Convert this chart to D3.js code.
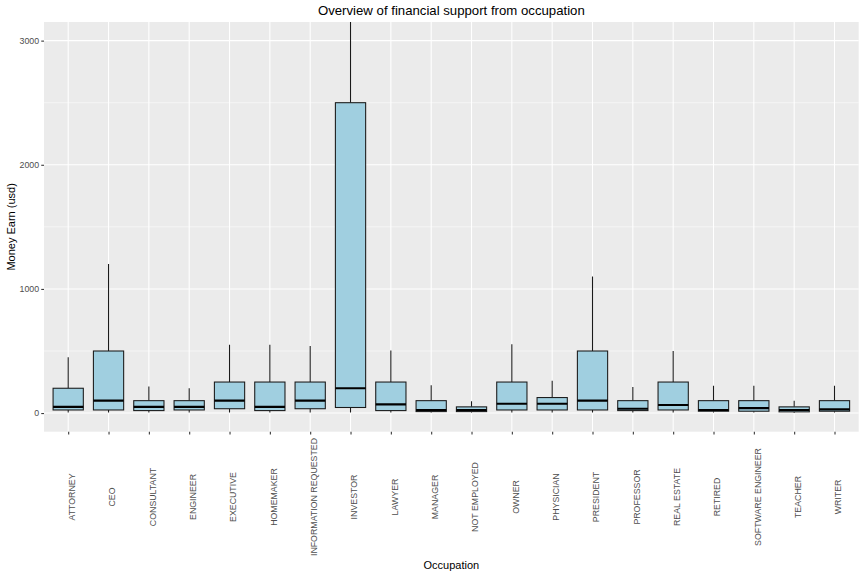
<!DOCTYPE html>
<html><head><meta charset="utf-8">
<script src="https://cdn.jsdelivr.net/npm/d3@7"></script>
<style>
html,body{margin:0;padding:0;background:#fff;}
svg{display:block;font-family:"Liberation Sans",Arial,Helvetica,sans-serif;}
</style></head>
<body>
<svg id="chart" width="864" height="576"></svg>
<script>
const categories = ["ATTORNEY","CEO","CONSULTANT","ENGINEER","EXECUTIVE","HOMEMAKER","INFORMATION REQUESTED","INVESTOR","LAWYER","MANAGER","NOT EMPLOYED","OWNER","PHYSICIAN","PRESIDENT","PROFESSOR","REAL ESTATE","RETIRED","SOFTWARE ENGINEER","TEACHER","WRITER"];
const lowerWhisker = [5,5,5,5,5,5,5,5,5,5,5,5,5,5,5,5,5,5,3,5];
const q1Values     = [25,25,20,25,35,20,35,45,20,12,12,25,25,25,20,25,15,15,10,15];
const medianValues = [50,100,50,50,100,50,100,200,70,25,25,75,75,100,35,65,25,40,25,30];
const q3Values     = [200,500,100,100,250,250,250,2500,250,100,50,250,125,500,100,250,100,100,50,100];
const upperWhisker = [450,1200,215,200,550,550,540,3500,505,225,95,555,260,1100,210,500,220,220,100,220];
const yMajorTicks = [0,1000,2000,3000];
const yMinorTicks = [500,1500,2500];
const titleText = "Overview of financial support from occupation";
const xTitle = "Occupation";
const yTitle = "Money Earn (usd)";

const boxes = categories.map((c,i)=>({cat:c, lo:lowerWhisker[i], q1:q1Values[i], med:medianValues[i], q3:q3Values[i], hi:upperWhisker[i]}));

const svg = d3.select("#chart");
const P = {left:44, right:858.7, top:22, bottom:431.7};

const x = d3.scalePoint().domain(categories).range([P.left, P.right]).padding(0.6);
const y = d3.scaleLinear().domain([-150, 3150]).range([P.bottom, P.top]);
const bw = x.step() * 0.75;

// panel
svg.append("rect").attr("x",P.left).attr("y",P.top).attr("width",P.right-P.left).attr("height",P.bottom-P.top).attr("fill","#EBEBEB");
svg.append("clipPath").attr("id","clip").append("rect").attr("x",P.left).attr("y",P.top).attr("width",P.right-P.left).attr("height",P.bottom-P.top);

const grid = svg.append("g");
grid.selectAll(".minor").data(yMinorTicks).join("line")
  .attr("x1",P.left).attr("x2",P.right).attr("y1",d=>y(d)).attr("y2",d=>y(d))
  .attr("stroke","#fff").attr("stroke-width",0.53);
grid.selectAll(".majory").data(yMajorTicks).join("line")
  .attr("x1",P.left).attr("x2",P.right).attr("y1",d=>y(d)).attr("y2",d=>y(d))
  .attr("stroke","#fff").attr("stroke-width",1.07);
grid.selectAll(".majorx").data(categories).join("line")
  .attr("x1",d=>x(d)).attr("x2",d=>x(d)).attr("y1",P.top).attr("y2",P.bottom)
  .attr("stroke","#fff").attr("stroke-width",1.07);

const g = svg.append("g").attr("clip-path","url(#clip)");
const stroke = "#1a1a1a";
g.selectAll(".wu").data(boxes).join("line")
  .attr("x1",d=>x(d.cat)).attr("x2",d=>x(d.cat)).attr("y1",d=>y(d.q3)).attr("y2",d=>y(d.hi))
  .attr("stroke",stroke).attr("stroke-width",1.07);
g.selectAll(".wl").data(boxes).join("line")
  .attr("x1",d=>x(d.cat)).attr("x2",d=>x(d.cat)).attr("y1",d=>y(d.q1)).attr("y2",d=>y(d.lo))
  .attr("stroke",stroke).attr("stroke-width",1.07);
g.selectAll(".box").data(boxes).join("rect")
  .attr("x",d=>x(d.cat)-bw/2).attr("width",bw)
  .attr("y",d=>y(d.q3)).attr("height",d=>y(d.q1)-y(d.q3))
  .attr("fill","#A0CFE0").attr("stroke",stroke).attr("stroke-width",1.07);
g.selectAll(".med").data(boxes).join("line")
  .attr("x1",d=>x(d.cat)-bw/2).attr("x2",d=>x(d.cat)+bw/2).attr("y1",d=>y(d.med)).attr("y2",d=>y(d.med))
  .attr("stroke","#000").attr("stroke-width",2.13);

// y axis
const yAxis = svg.append("g").attr("transform",`translate(${P.left},0)`)
  .call(d3.axisLeft(y).tickValues(yMajorTicks).tickSize(2.75).tickPadding(2.2).tickFormat(d3.format("d")));
yAxis.select(".domain").remove();
yAxis.selectAll(".tick line").attr("stroke","#333333").attr("stroke-width",1.07);
yAxis.selectAll(".tick text").attr("fill","#4D4D4D").attr("font-size","8.8px").attr("font-family","Liberation Sans, Arial, sans-serif");

// x axis
const xAxis = svg.append("g").attr("transform",`translate(0,${P.bottom})`)
  .call(d3.axisBottom(x).tickSize(2.75).tickFormat(""));
xAxis.select(".domain").remove();
xAxis.selectAll(".tick line").attr("stroke","#333333").attr("stroke-width",1.07);
svg.append("g").selectAll("text").data(categories).join("text")
  .attr("transform",d=>`translate(${x(d)+3.8},497) rotate(-90)`)
  .attr("text-anchor","middle").attr("dominant-baseline","central")
  .attr("fill","#4D4D4D").attr("font-size","8.8px")
  .text(d=>d);

// titles
svg.append("text").attr("x",(P.left+P.right)/2).attr("y",15).attr("text-anchor","middle")
  .attr("font-size","13.2px").attr("fill","#000").text(titleText);
svg.append("text").attr("x",(P.left+P.right)/2).attr("y",569).attr("text-anchor","middle")
  .attr("font-size","11px").attr("fill","#000").text(xTitle);
svg.append("text").attr("transform",`translate(14.5,${(P.top+P.bottom)/2}) rotate(-90)`).attr("text-anchor","middle")
  .attr("font-size","11px").attr("fill","#000").text(yTitle);
</script>
</body></html>
